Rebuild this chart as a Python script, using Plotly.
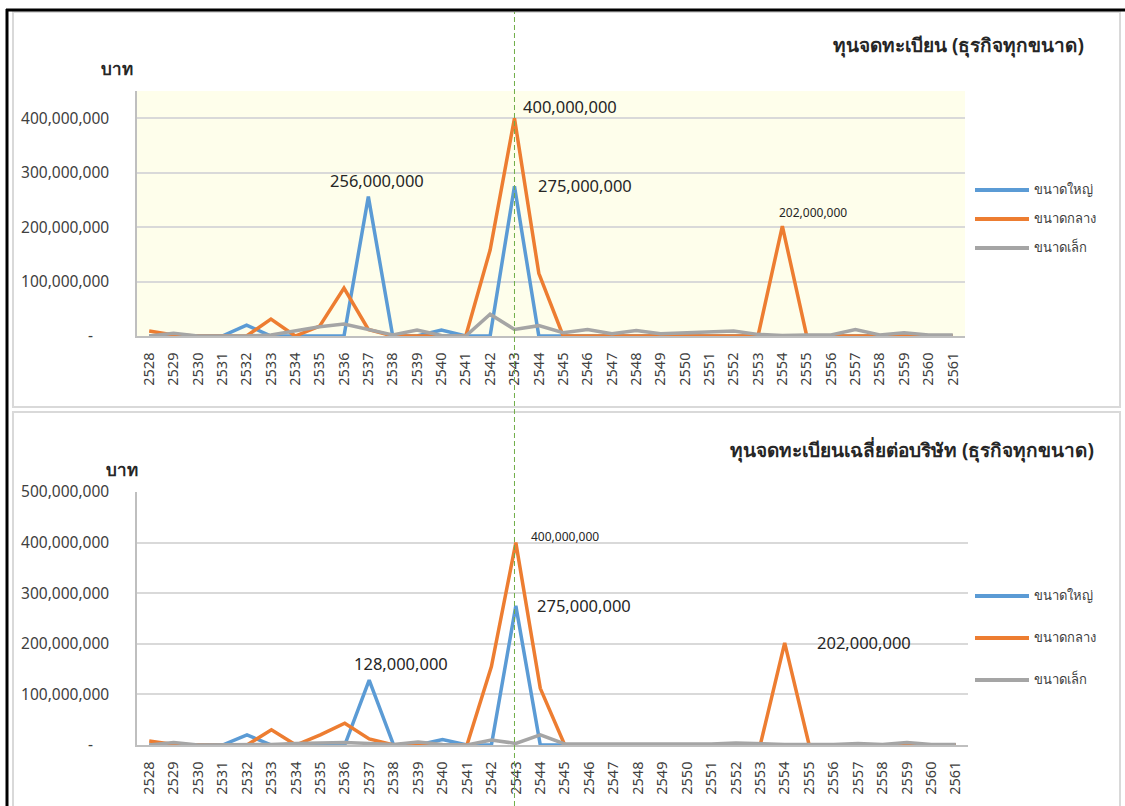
import plotly.graph_objects as go

years = [str(y) for y in range(2528, 2562)]
series_names = ["ขนาดใหญ่", "ขนาดกลาง", "ขนาดเล็ก"]

# Panel 1: registered capital (baht)
top_large = [0, 0, 0, 0, 20e6, 0, 0, 0, 0, 256e6, 0, 0, 11e6, 0, 0, 275e6, 0,
             0, 0, 0, 0, 0, 0, 0, 0, 0, 0, 0, 0, 0, 0, 0, 0, 0]
top_medium = [9e6, 2e6, 0, 0, 0, 31e6, 0, 18e6, 88e6, 12e6, 0, 0, 0, 0, 158e6, 400e6, 115e6,
              0, 0, 0, 0, 0, 0, 0, 0, 0, 202e6, 0, 0, 0, 0, 0, 0, 0]
top_small = [0, 5e6, 0, 0, 0, 2e6, 10e6, 17e6, 22e6, 12e6, 2e6, 11e6, 1e6, 0, 40e6, 12e6, 19e6,
             6e6, 12e6, 4e6, 10e6, 4e6, 6e6, 8e6, 9e6, 3e6, 1e6, 2e6, 2e6, 12e6, 2e6, 6e6, 2e6, 2e6]

# Panel 2: average registered capital per company (baht)
bot_large = [0, 0, 0, 0, 20e6, 0, 0, 0, 0, 128e6, 0, 0, 11e6, 0, 0, 275e6, 0,
             0, 0, 0, 0, 0, 0, 0, 0, 0, 0, 0, 0, 0, 0, 0, 0, 0]
bot_medium = [8e6, 1e6, 0, 0, 0, 30e6, 0, 20e6, 43e6, 12e6, 0, 0, 0, 0, 155e6, 400e6, 112e6,
              0, 0, 0, 0, 0, 0, 0, 0, 0, 202e6, 0, 0, 0, 0, 0, 0, 0]
bot_small = [0, 5e6, 0, 0, 0, 1e6, 3e6, 4e6, 5e6, 3e6, 1e6, 6e6, 1e6, 0, 10e6, 3e6, 20e6,
             2e6, 2e6, 2e6, 2e6, 2e6, 2e6, 2e6, 4e6, 2e6, 1e6, 1e6, 1e6, 3e6, 1e6, 5e6, 1e6, 1e6]

top_title = "ทุนจดทะเบียน (ธุรกิจทุกขนาด)"
bot_title = "ทุนจดทะเบียนเฉลี่ยต่อบริษัท (ธุรกิจทุกขนาด)"
unit_label = "บาท"
y_ticks_top = [0, 100e6, 200e6, 300e6, 400e6]
y_ticks_bot = [0, 100e6, 200e6, 300e6, 400e6, 500e6]

colors = ["#5B9BD5", "#ED7D31", "#A5A5A5"]
FONT = "Noto Sans, DejaVu Sans, sans-serif"
W, H = 1125, 806


def px(x):
    return x / W


def py(y):
    return 1 - y / H


def fmt(v):
    return "-\u00a0\u00a0\u00a0\u00a0" if v == 0 else f"{int(v):,}"


fig = go.Figure()

for i, (name, vals) in enumerate(zip(series_names, [top_large, top_medium, top_small])):
    fig.add_trace(go.Scatter(x=years, y=vals, name=name, mode="lines",
                             line=dict(color=colors[i], width=3.5),
                             xaxis="x", yaxis="y", showlegend=False))
for i, (name, vals) in enumerate(zip(series_names, [bot_large, bot_medium, bot_small])):
    fig.add_trace(go.Scatter(x=years, y=vals, name=name, mode="lines",
                             line=dict(color=colors[i], width=3.5),
                             xaxis="x2", yaxis="y2", showlegend=False))

axis_common = dict(type="category", tickangle=-90, tickfont=dict(family=FONT, size=14.5, color="#404040"),
                   showgrid=False, showline=True, linecolor="#BFBFBF", linewidth=1.5, automargin=False,
                   ticks="outside", ticklen=9, tickcolor="rgba(0,0,0,0)", fixedrange=True)
yaxis_common = dict(showgrid=True, gridcolor="#D9D9D9", gridwidth=1.5, zeroline=False,
                    showline=True, linecolor="#BFBFBF", linewidth=1.5, automargin=False,
                    tickfont=dict(family=FONT, size=15.5, color="#404040"),
                    ticks="outside", ticklen=23, tickcolor="rgba(0,0,0,0)", fixedrange=True)

fig.update_layout(
    width=W, height=H,
    margin=dict(l=0, r=0, t=0, b=0, pad=0, autoexpand=False),
    paper_bgcolor="white", plot_bgcolor="rgba(0,0,0,0)",
    font=dict(family=FONT, color="#404040"),
    showlegend=False,
    xaxis=dict(domain=[px(137), px(965)], anchor="y", range=[-0.5, 33.5], **axis_common),
    yaxis=dict(domain=[py(336), py(91)], anchor="x", range=[0, 450e6],
               tickvals=y_ticks_top, ticktext=[fmt(v) for v in y_ticks_top], **yaxis_common),
    xaxis2=dict(domain=[px(137), px(968)], anchor="y2", range=[-0.5, 33.5], **axis_common),
    yaxis2=dict(domain=[py(745), py(492)], anchor="x2", range=[0, 500e6],
                tickvals=y_ticks_bot, ticktext=[fmt(v) for v in y_ticks_bot], **yaxis_common),
)

shapes = [
    # yellow background of top plot area
    dict(type="rect", xref="x domain", yref="y domain", x0=0, x1=1, y0=0, y1=1,
         fillcolor="#FEFEEB", line=dict(width=0), layer="below"),
    # panel borders
    dict(type="rect", xref="paper", yref="paper", x0=px(13), x1=px(1120), y0=py(407), y1=py(12),
         line=dict(color="#D9D9D9", width=2), layer="below"),
    dict(type="rect", xref="paper", yref="paper", x0=px(13), x1=px(1120), y0=py(812), y1=py(412),
         line=dict(color="#D9D9D9", width=2), layer="below"),
    # outer black frame (top and left)
    dict(type="line", xref="paper", yref="paper", x0=px(6), x1=1, y0=py(10), y1=py(10),
         line=dict(color="black", width=3)),
    dict(type="line", xref="paper", yref="paper", x0=px(7), x1=px(7), y0=0, y1=py(9),
         line=dict(color="black", width=3)),
    # dashed marker line at 2543
    dict(type="line", xref="x", yref="paper", x0=15, x1=15, y0=0, y1=py(12),
         line=dict(color="#70AD47", width=1, dash="5px,3px")),
]

ann = []
ann.append(dict(xref="paper", yref="paper", x=px(1086), y=py(45), xanchor="right", yanchor="middle",
                text=f"<b>{top_title}</b>", showarrow=False, font=dict(family=FONT, size=19, color="#262626")))
ann.append(dict(xref="paper", yref="paper", x=px(1096), y=py(450), xanchor="right", yanchor="middle",
                text=f"<b>{bot_title}</b>", showarrow=False, font=dict(family=FONT, size=19, color="#262626")))
ann.append(dict(xref="paper", yref="paper", x=px(117), y=py(68), xanchor="center", yanchor="middle",
                text=f"<b>{unit_label}</b>", showarrow=False, font=dict(family=FONT, size=17, color="#262626")))
ann.append(dict(xref="paper", yref="paper", x=px(122), y=py(470), xanchor="center", yanchor="middle",
                text=f"<b>{unit_label}</b>", showarrow=False, font=dict(family=FONT, size=17, color="#262626")))

# custom legends (longer line samples, as in the original)
for legend_ys in ([190, 219, 248], [596, 638, 680]):
    for i, name in enumerate(series_names):
        yy = legend_ys[i]
        shapes.append(dict(type="line", xref="paper", yref="paper", x0=px(975), x1=px(1029),
                           y0=py(yy), y1=py(yy), line=dict(color=colors[i], width=4)))
        ann.append(dict(xref="paper", yref="paper", x=px(1032), y=py(yy - 1), xanchor="left",
                        yanchor="middle", text=name, showarrow=False,
                        font=dict(family=FONT, size=13, color="#404040")))

fig.update_layout(shapes=shapes)


def label(xa, ya, year, vals, dx, dy, size):
    idx = years.index(year)
    v = vals[idx]
    return dict(xref=xa, yref=ya, x=idx, y=v, text=f"{int(v):,}", showarrow=False,
                xshift=dx, yshift=dy, font=dict(family=FONT, size=size, color="#262626"))


ann += [
    label("x", "y", "2537", top_large, 9, 16, 16.5),
    label("x", "y", "2543", top_medium, 56, 12, 16.5),
    label("x", "y", "2543", top_large, 71, 1, 16.5),
    label("x", "y", "2554", top_medium, 31, 14, 12),
    label("x2", "y2", "2543", bot_medium, 49, 6, 12),
    label("x2", "y2", "2543", bot_large, 68, 0, 16.5),
    label("x2", "y2", "2537", bot_large, 32, 17, 16.5),
    label("x2", "y2", "2554", bot_medium, 79, 0, 16.5),
]
fig.update_layout(annotations=ann)

page_fix = (
    "document.documentElement.style.margin='0';"
    "document.body.style.margin='0';"
    "document.documentElement.style.overflow='hidden';"
    "document.body.style.overflow='hidden';"
    "var d=document.querySelector('.plotly-graph-div');"
    "d.style.position='fixed';d.style.top='0px';d.style.left='0px';"
)
fig.write_html("out.html", config={"displayModeBar": False}, post_script=page_fix)
